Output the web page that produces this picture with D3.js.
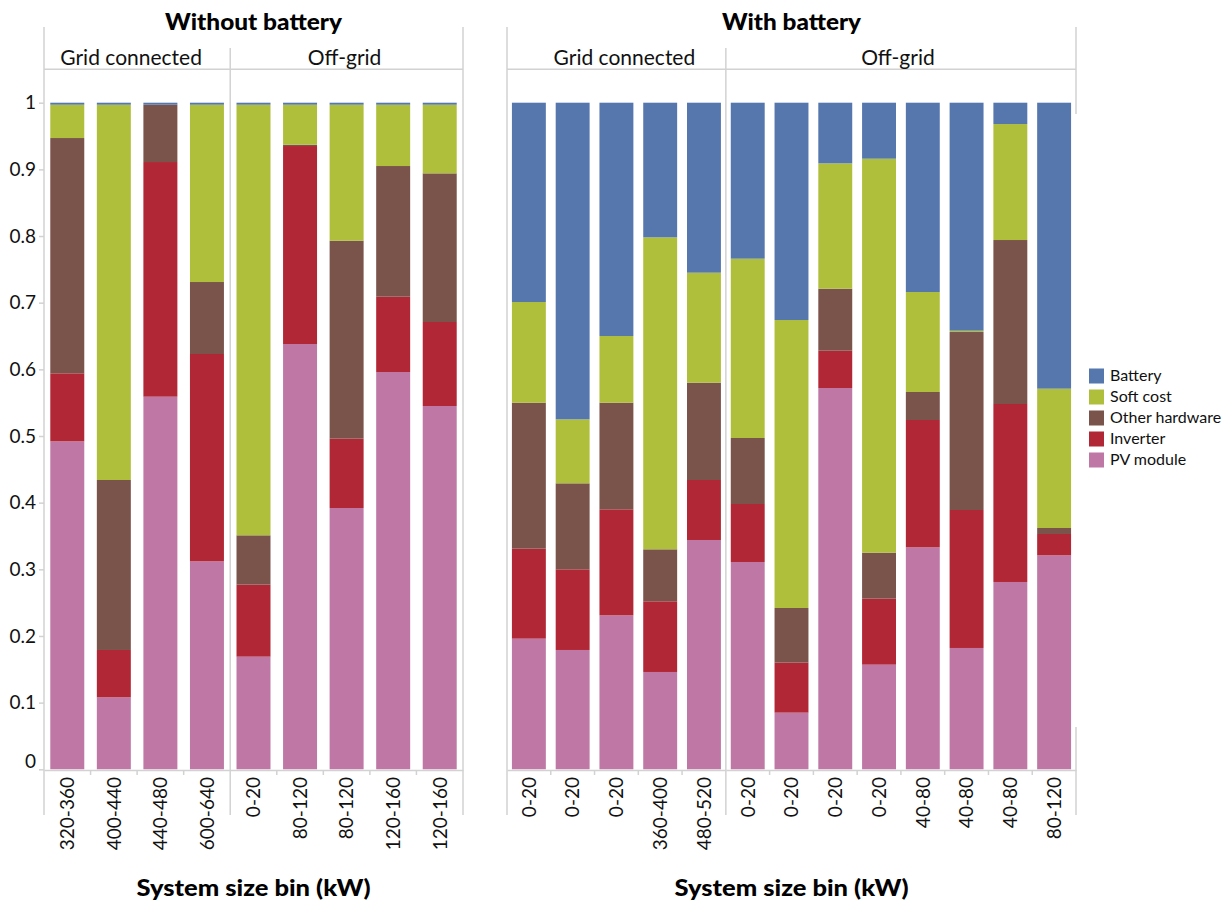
<!DOCTYPE html>
<html>
<head>
<meta charset="utf-8">
<script src="https://cdn.jsdelivr.net/npm/d3@7"></script>
<style>
  html, body { margin: 0; padding: 0; background: #fff; }
  svg { display: block; font-family: Lato, "Open Sans", sans-serif; }
</style>
</head>
<body>
<svg id="chart" width="1226" height="903"></svg>
<script>
// Cost shares of PV system components, by battery option, grid connection and size bin
const components = ["PV module", "Inverter", "Other hardware", "Soft cost", "Battery"];
const componentColors = ["#bf78a5", "#b22735", "#7a544b", "#b0bf3b", "#5577ae"];
const legendOrder = ["Battery", "Soft cost", "Other hardware", "Inverter", "PV module"];

const panelTitles = ["Without battery", "With battery"];
const groupTitles = ["Grid connected", "Off-grid"];

// Size bins (kW), in drawing order
const noBatteryGridBins = ["320-360", "400-440", "440-480", "600-640"];
const noBatteryOffBins = ["0-20", "80-120", "80-120", "120-160", "120-160"];
const batteryGridBins = ["0-20", "0-20", "0-20", "360-400", "480-520"];
const batteryOffBins = ["0-20", "0-20", "0-20", "0-20", "40-80", "40-80", "40-80", "80-120"];

// Shares per bar, same order as the bins above (22 bars)
const pvModule = [0.492, 0.108, 0.559, 0.312, 0.169, 0.638, 0.392, 0.596, 0.545,
  0.196, 0.179, 0.231, 0.146, 0.344, 0.311, 0.085, 0.572, 0.157, 0.333, 0.182, 0.281, 0.321];
const inverter = [0.102, 0.071, 0.352, 0.311, 0.108, 0.297, 0.104, 0.113, 0.126,
  0.135, 0.121, 0.159, 0.106, 0.090, 0.087, 0.075, 0.056, 0.099, 0.191, 0.207, 0.267, 0.032];
const otherHardware = [0.353, 0.255, 0.086, 0.108, 0.074, 0.002, 0.297, 0.196, 0.223,
  0.219, 0.129, 0.160, 0.078, 0.146, 0.099, 0.082, 0.093, 0.069, 0.042, 0.267, 0.246, 0.009];
const softCost = [0.050, 0.563, 0.000, 0.266, 0.646, 0.060, 0.204, 0.092, 0.103,
  0.151, 0.096, 0.100, 0.468, 0.165, 0.269, 0.432, 0.188, 0.591, 0.150, 0.002, 0.174, 0.209];
const battery = [0.003, 0.003, 0.003, 0.003, 0.003, 0.003, 0.003, 0.003, 0.003,
  0.299, 0.475, 0.350, 0.202, 0.255, 0.234, 0.326, 0.091, 0.084, 0.284, 0.342, 0.032, 0.429];

const yTicks = [0, 0.1, 0.2, 0.3, 0.4, 0.5, 0.6, 0.7, 0.8, 0.9, 1];

// ---- build rows ----
const seriesArrays = [pvModule, inverter, otherHardware, softCost, battery];
const binLists = [[noBatteryGridBins, noBatteryOffBins], [batteryGridBins, batteryOffBins]];
let rows = [];
let k = 0;
binLists.forEach((panelBins, p) => {
  panelBins.forEach((bins, g) => {
    bins.forEach((bin, i) => {
      const r = { panel: p, group: g, key: p + "-" + g + "-" + i, bin: bin };
      components.forEach((c, ci) => { r[c] = seriesArrays[ci][k]; });
      rows.push(r);
      k++;
    });
  });
});

const svg = d3.select("#chart");
const color = d3.scaleOrdinal().domain(components).range(componentColors);
const stack = d3.stack().keys(components);

const yTop = 102.7, yBottom = 769.3;
const y = d3.scaleLinear().domain([0, 1]).range([yBottom, yTop]);

const panelExtents = [[44, 463], [507, 1076]];
const panelPadding = [0.27, 0.225];
// small horizontal nudges for the group headers
const headerShift = [[-6, -2], [8, -3]];
const frameColor = "#d2d2d2";
const axisBottomY = yBottom + 0.7;
const frameBottom = 815;

panelTitles.forEach((title, p) => {
  const [x0, x1] = panelExtents[p];
  const groupsBins = binLists[p];
  const total = d3.sum(groupsBins, b => b.length);
  const step = (x1 - x0) / total;
  const g = svg.append("g");

  // panel title
  g.append("text")
    .attr("x", (x0 + x1) / 2).attr("y", 30)
    .attr("text-anchor", "middle")
    .attr("font-weight", 900).attr("font-size", 22)
    .attr("textLength", p === 0 ? 177 : 139).attr("lengthAdjust", "spacingAndGlyphs")
    .attr("fill", "#000")
    .text(title);

  // header rule
  g.append("line").attr("x1", x0).attr("x2", x1).attr("y1", 69.3).attr("y2", 69.3)
    .attr("stroke", frameColor).attr("stroke-width", 1.5);

  // outer frame verticals
  g.append("line").attr("x1", x0).attr("x2", x0).attr("y1", 27).attr("y2", frameBottom)
    .attr("stroke", frameColor).attr("stroke-width", 1.5);
  if (p === 0) {
    g.append("line").attr("x1", x1).attr("x2", x1).attr("y1", 27).attr("y2", frameBottom)
      .attr("stroke", frameColor).attr("stroke-width", 1.5);
  } else {
    g.append("line").attr("x1", x1).attr("x2", x1).attr("y1", 27).attr("y2", 114)
      .attr("stroke", frameColor).attr("stroke-width", 1.5);
    g.append("line").attr("x1", x1).attr("x2", x1).attr("y1", 727).attr("y2", frameBottom)
      .attr("stroke", frameColor).attr("stroke-width", 1.5);
  }

  let gx = x0;
  groupsBins.forEach((bins, gi) => {
    const gStart = gx, gEnd = gx + bins.length * step;
    gx = gEnd;
    const groupRows = rows.filter(r => r.panel === p && r.group === gi);
    const x = d3.scaleBand()
      .domain(groupRows.map(r => r.key))
      .range([gStart, gEnd])
      .paddingInner(panelPadding[p])
      .paddingOuter(panelPadding[p] / 2);

    // group header
    g.append("text")
      .attr("x", (gStart + gEnd) / 2 + headerShift[p][gi]).attr("y", 65)
      .attr("text-anchor", "middle")
      .attr("font-size", 21).attr("fill", "#111")
      .text(groupTitles[gi]);

    // divider between groups
    if (gi === 1) {
      g.append("line").attr("x1", gStart).attr("x2", gStart).attr("y1", 48).attr("y2", frameBottom)
        .attr("stroke", frameColor).attr("stroke-width", 1.5);
    }

    // stacked bars
    const layers = stack(groupRows);
    g.append("g").selectAll("g")
      .data(layers).join("g")
      .attr("fill", d => color(d.key))
      .selectAll("rect")
      .data(d => d).join("rect")
      .attr("x", d => x(d.data.key))
      .attr("width", x.bandwidth())
      .attr("y", d => y(d[1]))
      .attr("height", d => Math.max(0, y(d[0]) - y(d[1])));

    // x axis with rotated bin labels
    const labelOf = new Map(groupRows.map(r => [r.key, r.bin]));
    const ax = g.append("g")
      .attr("transform", `translate(0,${axisBottomY})`)
      .call(d3.axisBottom(x).tickSize(0).tickPadding(0).tickFormat(d => labelOf.get(d)));
    ax.select(".domain").attr("stroke", frameColor).attr("stroke-width", 1.5);
    ax.selectAll("text")
      .attr("transform", "rotate(-90)")
      .attr("text-anchor", "end")
      .attr("x", -7).attr("y", 0).attr("dy", "0.36em")
      .attr("font-family", "Lato, sans-serif")
      .attr("font-size", 19).attr("fill", "#111");

    // band boundary ticks
    const inner = x.domain().slice(1).map(kk => x(kk) - x.step() * x.paddingInner() / 2);
    g.append("g").selectAll("line").data(inner).join("line")
      .attr("x1", d => d).attr("x2", d => d)
      .attr("y1", axisBottomY).attr("y2", axisBottomY + 5)
      .attr("stroke", frameColor).attr("stroke-width", 1.5);
  });

  // y axis (left panel only)
  if (p === 0) {
    const ya = g.append("g")
      .attr("transform", `translate(${x0},0)`)
      .call(d3.axisLeft(y).tickValues(yTicks).tickSize(5).tickPadding(3).tickFormat(d3.format("~g")));
    ya.select(".domain").remove();
    ya.selectAll(".tick line").attr("stroke", frameColor).attr("stroke-width", 1.5);
    ya.selectAll("text")
      .attr("font-family", "Lato, sans-serif")
      .attr("font-size", 19).attr("fill", "#111");
    ya.selectAll(".tick").filter(d => d === 0).select("text").attr("dy", "-0.1em");
  }

  // x axis title
  g.append("text")
    .attr("x", (x0 + x1) / 2).attr("y", 896)
    .attr("text-anchor", "middle")
    .attr("font-weight", 900).attr("font-size", 22)
    .attr("textLength", 234).attr("lengthAdjust", "spacingAndGlyphs")
    .attr("fill", "#000")
    .text("System size bin (kW)");
});

// legend
const legend = svg.append("g").attr("transform", "translate(1089,368.5)");
const li = legend.selectAll("g").data(legendOrder).join("g")
  .attr("transform", (d, i) => `translate(0,${i * 21})`);
li.append("rect").attr("width", 15).attr("height", 15).attr("fill", d => color(d));
li.append("text").attr("x", 21).attr("y", 12.5)
  .attr("font-size", 16).attr("fill", "#111").text(d => d);
</script>
</body>
</html>
